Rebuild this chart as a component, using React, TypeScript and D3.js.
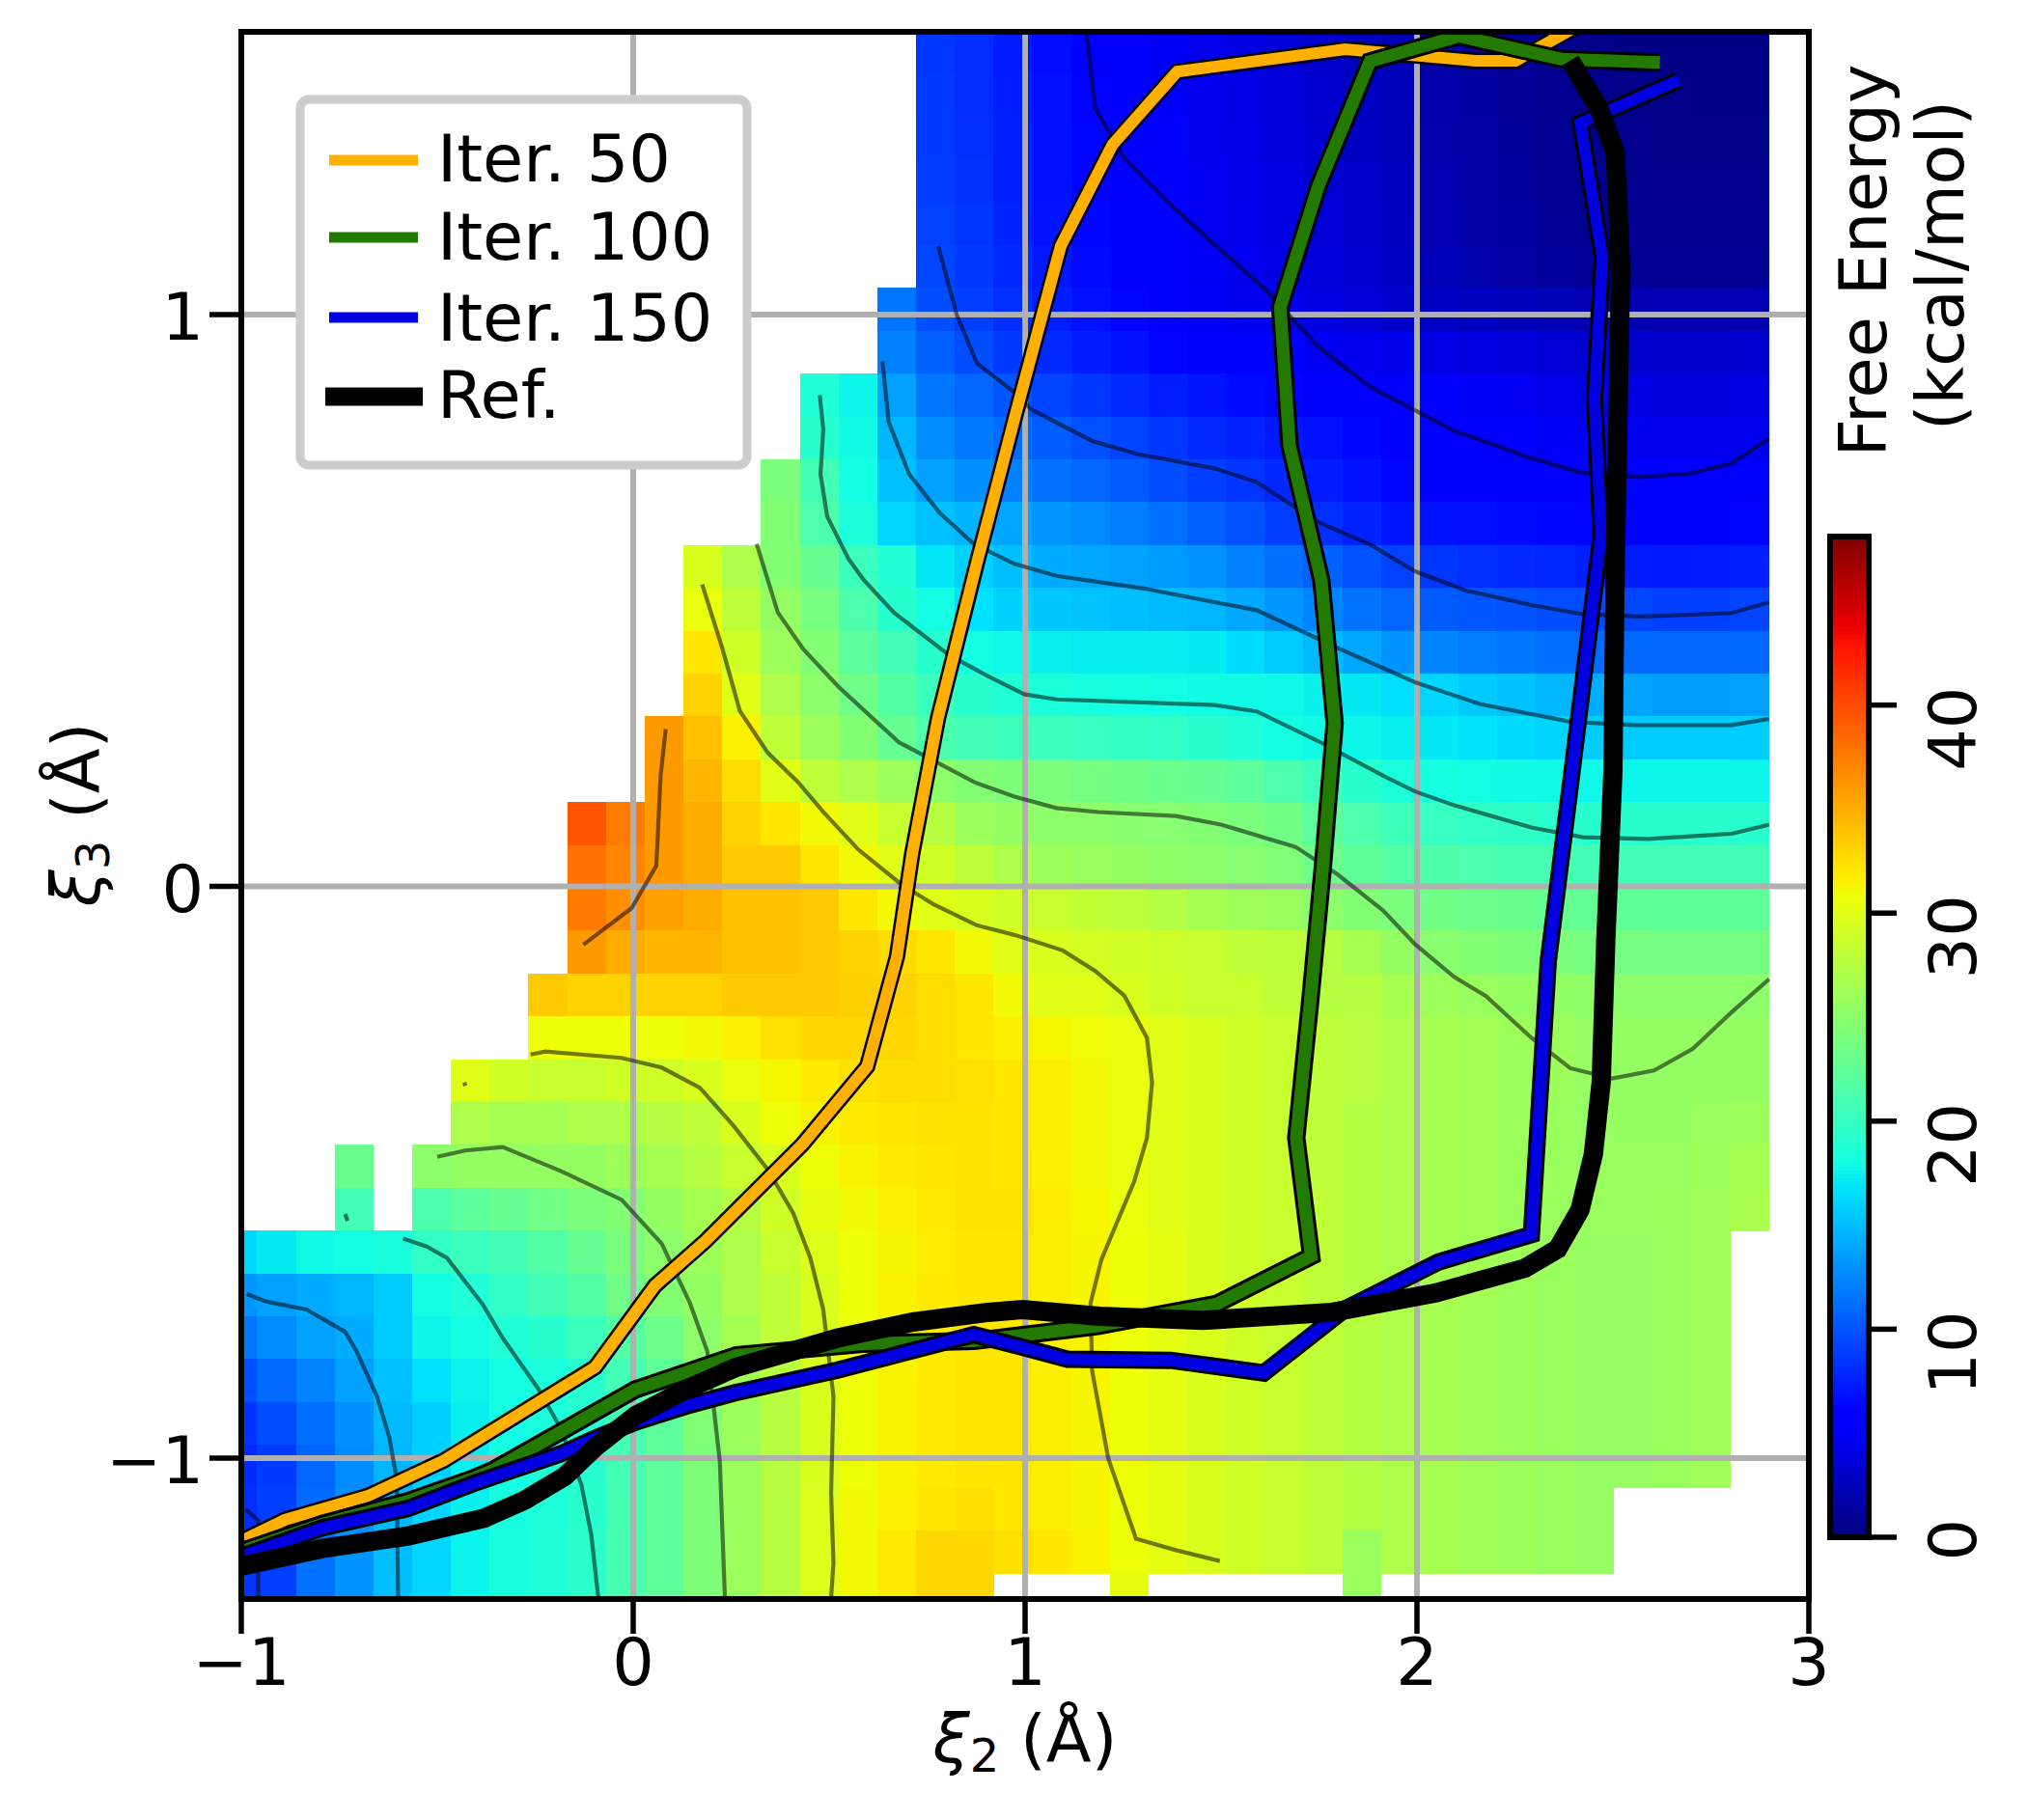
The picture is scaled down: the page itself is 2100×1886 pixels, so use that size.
import React from "react";
import * as d3 from "d3";

// ---------- data ----------
const n = null;
const cellX0 = -1.0584;
const cellDX = 0.09889;
const cellY0 = 1.4962;
const cellDY = 0.07494;
const heatStart = [18,18,18,18,18,18,17,17,15,15,14,14,12,12,12,12,11,11,9,9,9,9,8,8,6,6,3,3,0,0,0,0,0,0,0,0,0];
const heatRows: (number | null)[][] = [
  [8.6,8.1,7.3,6.6,6,5.6,4.9,4.5,4.1,3.7,3.2,2.7,2.2,1.7,1.3,.9,.6,.4,.3,.3,.3,.3],
  [8.7,8.1,7.4,6.7,6.1,5.7,5,4.6,4.2,3.8,3.3,2.8,2.3,1.8,1.4,1,.7,.5,.4,.4,.3,.3],
  [8.8,8.2,7.5,6.8,6.2,5.8,5.2,4.7,4.3,3.9,3.4,2.9,2.4,1.9,1.5,1.1,.8,.6,.5,.4,.4,.4],
  [8.9,8.3,7.5,6.8,6.2,5.8,5.3,4.8,4.4,4,3.5,3,2.5,2,1.6,1.2,.9,.7,.6,.5,.5,.5],
  [9.1,8.5,7.7,6.9,6.3,5.9,5.3,4.8,4.5,4.1,3.6,3.1,2.6,2.1,1.7,1.3,1,.8,.7,.6,.6,.6],
  [9.3,8.7,7.9,7.1,6.4,5.9,5.4,4.9,4.6,4.2,3.8,3.3,2.8,2.3,1.9,1.5,1.2,1,.9,.8,.8,.8],
  [11.6,9.7,9,8.2,7.4,6.8,6.2,5.6,5.1,4.7,4.4,4,3.6,3.2,2.9,2.6,2.4,2.2,2.1,2,2,2,2],
  [12.1,10.6,9.6,8.7,8,7.3,6.8,6.2,5.8,5.6,5.2,4.8,4.6,4.4,4.2,4,3.8,3.6,3.4,3.3,3.2,3.2,3.3],
  [18.7,17.6,13.6,11.6,10.8,10,9.2,8.6,8,7.4,6.9,6.5,6.2,6,5.8,5.6,5.3,5,4.8,4.5,4.3,4.1,3.9,3.9,4],
  [19.2,17.9,14.6,12.6,11.8,11.1,10.4,9.8,9.2,8.6,8,7.6,7.1,6.7,6.3,5.9,5.7,5.5,5.3,5.1,4.9,4.7,4.6,4.6,4.7],
  [24,20.7,18,15.1,13.6,12.8,12.1,11.4,10.8,10.3,9.7,9,8.5,7.9,7.3,6.8,6.2,6,5.9,5.9,5.7,5.7,5.5,5.5,5.5,5.7],
  [24.5,21.2,18.4,16.1,15.1,14.5,13.8,13.1,12.5,11.9,11.3,10.5,9.9,9,8.2,7.6,7,6.8,6.7,6.5,6.3,6.2,6,6,6,6.2],
  [29.5,27,24.5,22.8,20.2,18.8,16.9,15.9,15,14.1,13.9,13.6,13.3,12.9,12.1,11.3,10.6,9.9,9.1,8.6,8.2,8,7.8,7.5,7.3,7.2,7.3,7.5],
  [30.5,28,25.5,23.8,21.2,19.2,18,16.6,15.9,15.4,15.2,15,14.8,14.6,14,13.1,12.3,11.5,10.8,10.3,10.1,9.9,9.7,9.5,9.3,9,9,9.2],
  [32,29,26,24.5,22.2,20.7,19.2,18,17.7,17.3,17.2,17.2,17.2,17.1,16.4,15.6,14.7,13.9,13,12.4,11.9,11.6,11.3,11.1,10.9,10.8,10.8,10.9],
  [33,30,27,25,23.3,21.7,20.2,19.2,18.7,18.4,18.2,18.1,18,17.9,17.8,17.7,17.4,17,16.5,16.1,15.5,15.1,14.6,14.1,13.7,13.4,13.4,13.5],
  [36,34,31.5,28,26,24.5,22.8,21.2,20.7,20.4,20.2,20.1,19.9,19.7,19.2,18.7,18,17.9,17.6,17.3,17,16.7,16.3,16,15.7,15.6,15.6,15.6,15.7],
  [36,34.5,32.5,30,28,27,26,25,24.5,24.2,24,23.7,23.4,23.1,22.8,22.2,21.2,20.2,19.2,18.4,18.1,18,17.9,17.8,17.7,17.6,17.6,17.6,17.6],
  [39.5,37.5,36,35,33,32,31,30,28.5,27.5,26,25.5,25,25,24.8,24.7,24.5,24,23.5,22.2,21.2,20.4,20,19.7,19.5,19.3,19.2,19.2,19.2,19.2,19.2],
  [38,37,36,35,33.5,33.5,32,31,30,29,28,27,26,25.8,25.5,25.3,25,24.7,24.3,23.2,22.4,21.7,21.4,21.2,21,20.9,20.7,20.7,20.7,20.7,20.7],
  [37.5,36.5,35.5,35,34,34,33.5,32,31,30,29.5,29,28.5,28.2,27.8,27.3,26.5,26.2,25.8,25,24.5,24,23.4,23.2,23,22.8,22.6,22.4,22.3,22.3,22.3],
  [36,35,34.5,34.5,34,34,33.5,33,32.5,32,31,30,29.5,29.3,29,28.8,28.5,28,27.8,27.5,26.5,25.5,24.8,24.5,24.2,24,23.8,23.6,23.6,23.6,23.6],
  [33.5,33,33,33,33,33.5,33.5,33.5,33.2,33,32.5,32,31,30,30,29.5,29,28.5,28.5,28,27.5,27.5,26.6,26,25.8,25.5,25.4,25.2,25,25,25,25],
  [30.8,30.8,30.8,30.8,31,31.5,32.3,32.8,32.8,32.8,32.5,32,31.6,31.2,30.9,30.5,30,29.5,29,28.5,28,27.6,27,26.6,26.4,26,26,25.6,25.5,25.5,25.5,25.5],
  [30,29,28.5,28.5,29,29,29.5,30.5,31.2,31.8,32.3,32.5,32.5,32.3,32,31.6,31,30.5,30,29.5,29,28.5,28,27.6,27,26.6,26.4,26,26,25.6,25.5,25.5,25.5,25.5],
  [27,26.5,26.5,27,27,27.5,28,29.5,30.8,31.4,31.8,32,32.2,32.2,32,31.6,31,30.5,30,29.5,29,28.5,28,27.4,27,26.6,26.4,26,25.8,25.6,25.5,25.5,25.7,26],
  [23,n,25,25.5,25.5,25.5,25.5,26,26.5,27.5,28.5,29.5,30.8,31.4,31.8,32,32.2,32,31.5,31,30.5,30,29.5,29,28.5,28,27.4,27,26.6,26.4,26,25.8,25.7,25.7,25.7,26,26.5],
  [20.7,n,21.2,22.2,22.8,23.5,24,24.5,25.5,26.5,27.5,29,30.3,31,31.5,31.8,32.2,32.2,31.7,31.2,30.6,30,29.5,29,28.5,28,27.4,27,26.6,26.4,26,25.8,25.7,25.7,25.8,26.2,26.8],
  [16.1,17.1,17.8,18,18.3,19.7,20.2,20.7,21.7,22.8,24,25,26,27,28.5,29.8,30.8,31.3,31.7,32,32,31.6,31.3,30.8,30.2,29.6,29,28.5,28,27.4,27,26.6,26.3,26,25.8,25.6,25.6,25.8,26.2],
  [13.1,13.6,14.1,14.6,15.6,18,18.7,19.7,20.7,21.7,23.3,24.5,25.5,27,28,29.5,30.8,31.4,31.8,32,32,31.6,31.3,30.8,30.2,29.6,29,28.5,28,27.4,27,26.6,26.3,26,25.8,25.6,25.6,25.8,26.2],
  [11.6,12.6,13.6,14.1,15.6,17.6,18,18.7,19.2,20.2,21.7,23.2,25,26.5,28,29.5,30.8,31.4,31.8,32.1,32,31.6,31.3,30.8,30.2,29.6,29,28.5,28,27.4,27,26.6,26.3,26,25.8,25.6,25.6,25.8,26.2],
  [9.8,11,12.2,13.6,15.1,16.6,17.5,18,18.4,19.1,20.7,22.4,24.8,26.2,27.6,29.5,30.8,31.4,31.8,32.1,32,31.6,31.3,30.8,30.2,29.6,29,28.5,28,27.4,27,26.6,26.3,26,25.8,25.6,25.6,25.8,26.2],
  [8.4,9.6,11.2,12.8,14.8,15.8,17.3,18,18.4,19,20.7,22.2,24.4,26,27.5,29.5,30.8,31.4,31.8,32.1,32,31.6,31.3,30.8,30.2,29.6,29,28.5,28,27.4,27,26.6,26.3,26,25.8,25.6,25.6,25.8,26.2],
  [8,8.8,10.8,12.6,14.6,15.8,17.3,18,18.5,19.1,20.7,22.2,24.2,25.8,27.5,29.5,30.8,31.4,31.8,32.1,32,31.6,31.3,30.8,30.2,29.6,29,28.5,28,27.4,27,26.6,26.3,26,25.8,25.6,25.6,25.8,26.2],
  [8.2,9,11,12.8,14.8,16,17.4,18.2,18.6,19.2,20.8,22.2,24.2,25.8,27.5,29.7,31,31.5,32,32.4,32,31.6,31.3,30.8,30.2,29.6,29,28.5,28,27.4,27,26.6,26.3,26,25.8,25.6],
  [8.5,9,11.4,13,15,16.1,17.5,18.3,18.7,19.3,20.9,22.2,24.2,25.8,27.5,29.7,31,31.8,32.8,32.8,32.4,32,31.4,30.8,30.2,29.6,29,28.5,28,25.8,27,26.6,26.3,26,25.8,25.6],
  [8.5,9,11.4,13,15,16.1,17.5,18.3,18.7,19.3,20.9,22.2,24.2,25.8,27.5,29.7,31,31.8,32.8,32.8,n,n,n,30.3,n,n,n,n,n,25.8],
];

type P = [number, number];
const contourLines: P[][] = [
  [[1.157,1.49],[1.179,1.361],[1.253,1.274],[1.385,1.183],[1.616,1.042],[1.748,.944],[1.88,.874],[2.094,.797],[2.292,.749],[2.424,.723],[2.572,.716],[2.704,.723],[2.803,.74],[2.899,.783]],
  [[.778,1.12],[.826,.999],[.877,.915],[.986,.857],[1.014,.835],[1.171,.779],[1.286,.756],[1.484,.731],[1.591,.707],[1.748,.637],[1.88,.598],[1.995,.551],[2.127,.517],[2.292,.492],[2.424,.476],[2.572,.472],[2.803,.478],[2.899,.497]],
  [[.636,.918],[.652,.812],[.704,.721],[.782,.653],[.871,.598],[.973,.564],[1.08,.543],[1.303,.521],[1.591,.483],[1.797,.417],[1.995,.357],[2.16,.319],[2.391,.288],[2.556,.282],[2.803,.282],[2.899,.293]],
  [[.476,.859],[.485,.799],[.478,.721],[.495,.647],[.549,.573],[.587,.537],[.665,.479],[.807,.404],[.91,.366],[.998,.336],[1.08,.327],[1.484,.317],[1.591,.306],[1.748,.254],[1.921,.191],[1.995,.166],[2.094,.142],[2.292,.103],[2.424,.086],[2.589,.083],[2.803,.092],[2.899,.108]],
  [[.315,.599],[.343,.537],[.369,.479],[.434,.415],[.524,.349],[.678,.252],[.871,.182],[.973,.157],[1.08,.137],[1.187,.13],[1.385,.123],[1.5,.108],[1.69,.069],[1.797,.021],[1.913,-.042],[1.995,-.101],[2.094,-.158],[2.176,-.192],[2.292,-.265],[2.391,-.318],[2.498,-.336],[2.605,-.322],[2.704,-.284],[2.803,-.22],[2.899,-.162]],
  [[.176,.528],[.228,.415],[.272,.307],[.343,.234],[.421,.182],[.485,.13],[.575,.064],[.685,.003],[.768,-.032],[.877,-.068],[.973,-.085],[1.096,-.112],[1.179,-.148],[1.253,-.191],[1.311,-.265],[1.324,-.343],[1.311,-.44],[1.278,-.517],[1.195,-.652],[1.167,-.729],[1.171,-.847],[1.212,-1],[1.283,-1.141],[1.385,-1.161],[1.497,-1.18]],
  [[.083,.275],[.07,.194],[.059,.036],[-.004,-.038],[-.127,-.102]],
  [[-.262,-.294],[-.224,-.289],[-.03,-.3],[.073,-.317],[.17,-.352],[.254,-.417],[.343,-.495],[.408,-.571],[.452,-.65],[.485,-.74],[.511,-.892],[.505,-1.061],[.511,-1.184],[.505,-1.244]],
  [[-.5,-.473],[-.429,-.462],[-.333,-.456],[-.184,-.498],[-.03,-.548],[.073,-.625],[.145,-.729],[.189,-.813],[.221,-1.005],[.234,-1.244]],
  [[-.587,-.616],[-.527,-.63],[-.475,-.65],[-.384,-.731],[-.333,-.79],[-.243,-.878],[-.184,-.949],[-.132,-1.047],[-.107,-1.134],[-.089,-1.244]],
  [[-.986,-.713],[-.937,-.726],[-.834,-.74],[-.735,-.779],[-.706,-.813],[-.654,-.892],[-.623,-.962],[-.603,-1.038],[-.6,-1.244]],
  [[-.989,-1.089],[-.957,-1.109],[-.957,-1.244]],
  [[-.431,-.343],[-.428,-.349]],
  [[-.735,-.573],[-.729,-.585]],
];

const iter50: P[] = [[-1.0,-1.145],[-.889,-1.108],[-.677,-1.066],[-.483,-1.004],[-.097,-.841],[.056,-.698],[.185,-.62],[.432,-.451],[.597,-.315],[.673,-.123],[.712,.057],[.778,.295],[.877,.566],[.976,.826],[1.091,1.12],[1.223,1.297],[1.388,1.425],[1.817,1.464],[2.147,1.444],[2.252,1.444],[2.41,1.505]];
const iter100: P[] = [[-1.0,-1.163],[-.793,-1.115],[-.574,-1.075],[-.406,-1.035],[-.355,-1.02],[.005,-.88],[.264,-.82],[.586,-.80],[.869,-.795],[.97,-.787],[1.185,-.769],[1.49,-.73],[1.73,-.647],[1.692,-.44],[1.728,-.198],[1.76,.035],[1.79,.285],[1.756,.535],[1.675,.77],[1.651,1.013],[1.748,1.224],[1.88,1.443],[2.107,1.487],[2.368,1.447],[2.62,1.441]];
const iter150: P[] = [[-1,-1.172],[-.793,-1.122],[-.574,-1.088],[-.406,-1.044],[-.187,-.993],[-.096,-.965],[.01,-.936],[.135,-.909],[.264,-.885],[.522,-.846],[.869,-.784],[.993,-.806],[1.108,-.827],[1.372,-.829],[1.609,-.851],[1.817,-.739],[2.055,-.657],[2.292,-.609],[2.335,-.131],[2.391,.175],[2.47,.614],[2.453,.853],[2.473,1.1],[2.417,1.335],[2.668,1.41]];
const refPath: P[] = [[-1,-1.189],[-.793,-1.158],[-.574,-1.136],[-.38,-1.105],[-.278,-1.074],[-.175,-1.032],[-.097,-.981],[.005,-.926],[.135,-.88],[.264,-.841],[.522,-.79],[.714,-.762],[.906,-.745],[.993,-.74],[1.19,-.752],[1.454,-.759],[1.784,-.745],[2.048,-.711],[2.275,-.668],[2.359,-.634],[2.416,-.566],[2.45,-.469],[2.47,-.343],[2.482,-.092],[2.5,.2],[2.506,.569],[2.52,1.086],[2.506,1.283],[2.465,1.36],[2.391,1.444]];

const legendLabels = ["Iter. 50", "Iter. 100", "Iter. 150", "Ref."];
const legendColors = ["#ffb000", "#237a00", "#0000e0", "#000000"];
const axisTicks = [-1, 0, 1, 2, 3];
const yAxisTicks = [-1, 0, 1];
const cbarTicks = [0, 10, 20, 30, 40];
const cbarMax = 48.1;

// ---------- scales ----------
const L = 250, R = 1874, T = 33, B = 1657;
const x = d3.scaleLinear().domain([-1, 3]).range([L, R]);
const y = d3.scaleLinear().domain([-1, 1]).range([1511, 326]);
const cb = d3.scaleLinear().domain([0, cbarMax]).range([1593, 556]);
const jetR = d3.scaleLinear().domain([0, .35, .66, .89, 1]).range([0, 0, 1, 1, .5]);
const jetG = d3.scaleLinear().domain([0, .125, .375, .64, .91, 1]).range([0, 0, 1, 1, 0, 0]);
const jetB = d3.scaleLinear().domain([0, .11, .34, .65, 1]).range([.5, 1, 1, 0, 0]);
const jet = (v: number) => {
  const t = Math.max(0, Math.min(1, v / cbarMax));
  return d3.rgb(jetR(t) * 255, jetG(t) * 255, jetB(t) * 255).formatRgb();
};
const line = d3.line<P>().x((d) => x(d[0])).y((d) => y(d[1]));
const FONT = "'DejaVu Sans', sans-serif";
const FS = 68.5;
const fmt = (v: number) => (v < 0 ? "\u2212" + Math.abs(v) : String(v));
const cbarSteps = d3.range(0, 256).map((i) => (i / 256) * cbarMax);

const Curve = ({ data, color, outer, inner }: { data: P[]; color: string; outer: number; inner: number }) => (
  <g fill="none" strokeLinejoin="miter" strokeMiterlimit={4} strokeLinecap="butt">
    <path d={line(data) || ""} stroke="#000" strokeWidth={outer} />
    {inner > 0 && <path d={line(data) || ""} stroke={color} strokeWidth={inner} />}
  </g>
);

export default function App() {
  const legendRows = [
    { cy: 166, base: 188 },
    { cy: 246, base: 269 },
    { cy: 329, base: 353 },
    { cy: 411, base: 433 },
  ];
  return (
    <svg
      width={2100}
      height={1886}
      viewBox="0 0 2100 1886"
      style={{ position: "absolute", left: 0, top: 0, display: "block", background: "#fff" }}
      fontFamily={FONT}
    >
      <defs>
        <clipPath id="plot">
          <rect x={L} y={T} width={R - L} height={B - T} />
        </clipPath>
      </defs>

      <g clipPath="url(#plot)">
        <g shapeRendering="crispEdges">
          {heatRows.flatMap((row, r) =>
            row.map((v, i) => {
              if (v === null) return null;
              const c = heatStart[r] + i;
              const x0 = x(cellX0 + c * cellDX);
              const x1 = x(cellX0 + (c + 1) * cellDX);
              const y0 = y(cellY0 - r * cellDY);
              const y1 = y(cellY0 - (r + 1) * cellDY);
              return <rect key={r + "-" + c} x={x0} y={y0} width={x1 - x0 + 0.5} height={y1 - y0 + 0.5} fill={jet(v)} />;
            })
          )}
        </g>
        <g stroke="#b0b0b0" strokeWidth={6}>
          {axisTicks.slice(1, -1).map((t) => (
            <line key={t} x1={x(t)} x2={x(t)} y1={T} y2={B} />
          ))}
          {yAxisTicks.map((t) => (
            <line key={t} x1={L} x2={R} y1={y(t)} y2={y(t)} />
          ))}
        </g>
        <g fill="none" stroke="#000" strokeOpacity={0.52} strokeWidth={4.2}>
          {contourLines.map((c, i) => (
            <path key={i} d={line(c) || ""} />
          ))}
        </g>
        <Curve data={iter50} color={legendColors[0]} outer={17} inner={12} />
        <Curve data={iter100} color={legendColors[1]} outer={19} inner={13} />
        <Curve data={iter150} color={legendColors[2]} outer={18} inner={12} />
        <Curve data={refPath} color="#000" outer={20} inner={0} />
      </g>

      {/* legend */}
      <rect x={311} y={103} width={463} height={379} rx={9} fill="#fff" stroke="#cccccc" strokeWidth={9} />
      {legendRows.map((row, i) => (
        <g key={i}>
          <line
            x1={i === 3 ? 337 : 341}
            x2={i === 3 ? 438 : 433}
            y1={row.cy}
            y2={row.cy}
            stroke={legendColors[i]}
            strokeWidth={i === 3 ? 19 : 11}
          />
          <text x={453} y={row.base} fontSize={FS} fill="#000">
            {legendLabels[i]}
          </text>
        </g>
      ))}

      {/* axes */}
      <rect x={L} y={T} width={R - L} height={B - T} fill="none" stroke="#000" strokeWidth={6} />
      {axisTicks.map((t) => (
        <g key={t}>
          <line x1={x(t)} x2={x(t)} y1={B} y2={B + 36} stroke="#000" strokeWidth={5.5} />
          <text x={x(t)} y={1746} fontSize={FS} textAnchor="middle">
            {fmt(t)}
          </text>
        </g>
      ))}
      {yAxisTicks.map((t) => (
        <g key={t}>
          <line x1={L - 33} x2={L} y1={y(t)} y2={y(t)} stroke="#000" strokeWidth={5.5} />
          <text x={211} y={y(t) + 26} fontSize={FS} textAnchor="end">
            {fmt(t)}
          </text>
        </g>
      ))}
      <text x={1062} y={1826} fontSize={FS} textAnchor="middle">
        <tspan fontStyle="italic">ξ</tspan>
        <tspan fontSize={48} dy={10}>2</tspan>
        <tspan dy={-10}> (Å)</tspan>
      </text>
      <text transform={`translate(103,844) rotate(-90)`} fontSize={FS} textAnchor="middle">
        <tspan fontStyle="italic">ξ</tspan>
        <tspan fontSize={48} dy={10}>3</tspan>
        <tspan dy={-10}> (Å)</tspan>
      </text>

      {/* colour bar */}
      <g shapeRendering="crispEdges">
        {cbarSteps.map((v) => (
          <rect key={v} x={1896} width={40} y={cb(v + cbarMax / 256)} height={cb(v) - cb(v + cbarMax / 256) + 1} fill={jet(v)} />
        ))}
      </g>
      <rect x={1896} y={cb(cbarMax)} width={40} height={cb(0) - cb(cbarMax)} fill="none" stroke="#000" strokeWidth={6} />
      {cbarTicks.map((t) => (
        <g key={t}>
          <line x1={1936} x2={1965} y1={cb(t)} y2={cb(t)} stroke="#000" strokeWidth={5.5} />
          <text transform={`translate(2047,${cb(t) - 19}) rotate(-90)`} fontSize={FS} textAnchor="end">
            {t}
          </text>
        </g>
      ))}
      <text transform="translate(1954,270) rotate(-90)" fontSize={FS} textAnchor="middle">Free Energy</text>
      <text transform="translate(2034,275) rotate(-90)" fontSize={FS} textAnchor="middle">(kcal/mol)</text>
    </svg>
  );
}
